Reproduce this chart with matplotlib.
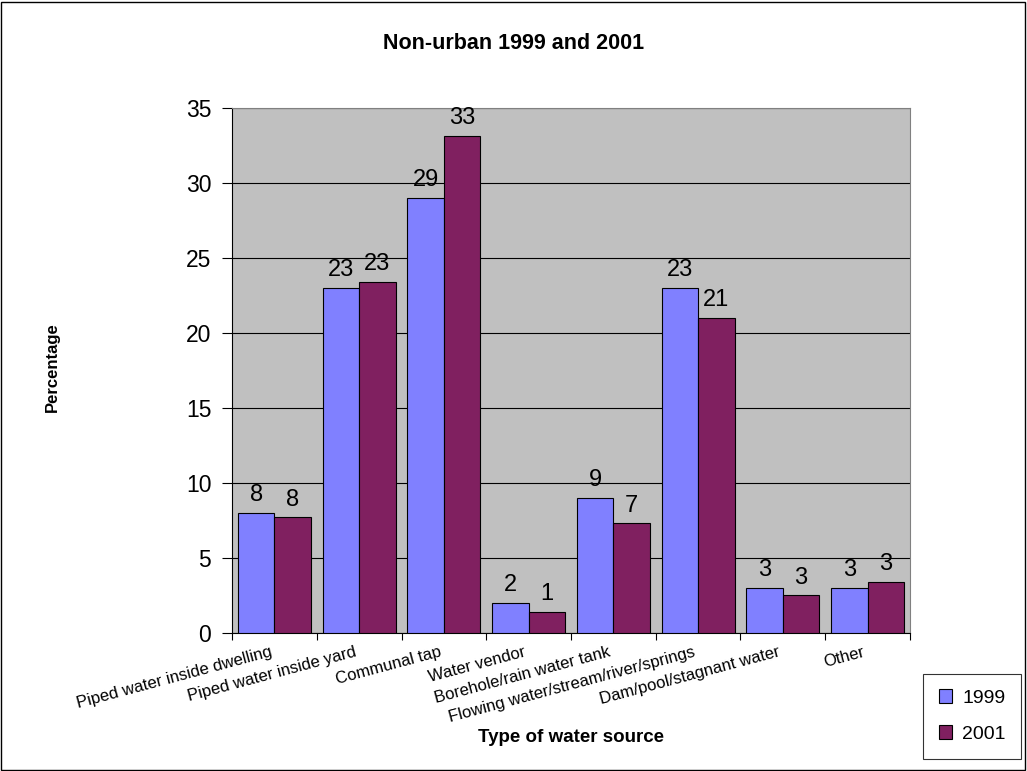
import numpy as np
import matplotlib.pyplot as plt

plt.rcParams['font.family'] = ['Liberation Sans', 'DejaVu Sans']

# Data
categories = ['Piped water inside dwelling', 'Piped water inside yard', 'Communal tap',
              'Water vendor', 'Borehole/rain water tank', 'Flowing water/stream/river/springs',
              'Dam/pool/stagnant water', 'Other']
values_1999 = [8.0, 23.0, 29.0, 2.0, 9.0, 23.0, 3.0, 3.0]
values_2001 = [7.7, 23.4, 33.1, 1.4, 7.3, 21.0, 2.5, 3.4]
labels_1999 = ['8', '23', '29', '2', '9', '23', '3', '3']
labels_2001 = ['8', '23', '33', '1', '7', '21', '3', '3']

fig = plt.figure(figsize=(10.27, 7.71), dpi=100)
ax = fig.add_axes([0.226, 0.179, 0.66, 0.681])
ax.set_facecolor('#C0C0C0')

x = np.arange(len(categories))
w = 0.43
b1 = ax.bar(x - w / 2, values_1999, w, color='#8080FF', edgecolor='black', linewidth=0.8, label='1999', zorder=3)
b2 = ax.bar(x + w / 2, values_2001, w, color='#802060', edgecolor='black', linewidth=0.8, label='2001', zorder=3)
ax.bar_label(b1, labels=labels_1999, padding=5, fontsize=17)
ax.bar_label(b2, labels=labels_2001, padding=5, fontsize=17)

ax.set_xlim(-0.5, len(categories) - 0.5)
ax.set_ylim(0, 35)
ax.set_yticks(range(0, 36, 5))
ax.yaxis.grid(True, color='black', linewidth=0.8, zorder=0)
ax.set_axisbelow(True)
ax.tick_params(axis='y', labelsize=16.5, length=7, direction='out', pad=8)
ax.set_xticks(np.arange(len(categories) + 1) - 0.5)
ax.set_xticklabels([])
ax.tick_params(axis='x', length=5, direction='out')
for i, c in enumerate(categories):
    ax.text(i - 0.06, -0.75, c, rotation=15, ha='right', va='top', fontsize=12,
            rotation_mode='anchor')

for s in ['top', 'right']:
    ax.spines[s].set_color('#808080')
for s in ['left', 'bottom']:
    ax.spines[s].set_color('black')

fig.text(0.5, 0.944, 'Non-urban 1999 and 2001', ha='center', va='center', fontsize=15.5, fontweight='bold')
fig.text(0.051, 1 - 367 / 771, 'Percentage', rotation=90, ha='center', va='center', fontsize=12, fontweight='bold')
fig.text(0.556, 0.043, 'Type of water source', ha='center', va='center', fontsize=13.5, fontweight='bold')

leg = fig.legend(loc='upper left', bbox_to_anchor=(0.899, 0.126), fontsize=14, frameon=True,
                 fancybox=False, edgecolor='black', handlelength=0.7, handleheight=0.7,
                 handletextpad=0.5, labelspacing=0.95, borderpad=0.8, borderaxespad=0)
leg.get_frame().set_linewidth(0.8)

fig.patches.append(plt.Rectangle((0.001, 0.001), 0.997, 0.997, transform=fig.transFigure,
                                 fill=False, edgecolor='black', linewidth=1))

fig.savefig('out.png', dpi=100)
